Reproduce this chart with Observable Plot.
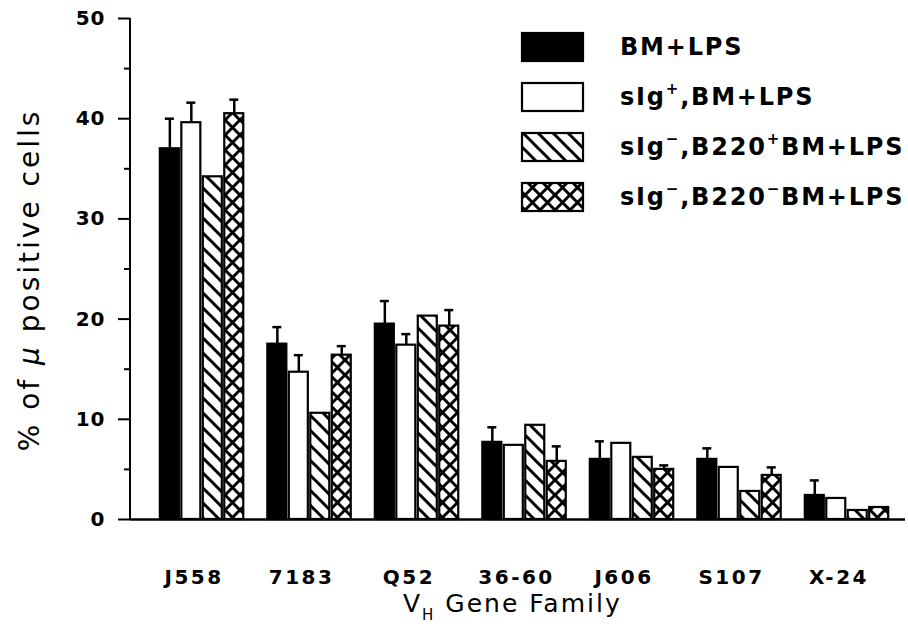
<!DOCTYPE html>
<html>
<head>
<meta charset="utf-8">
<script src="https://cdn.jsdelivr.net/npm/d3@7"></script>
<script src="https://cdn.jsdelivr.net/npm/@observablehq/plot@0.6"></script>
<style>
  html, body { margin: 0; padding: 0; background: #fff; }
  #chart { width: 908px; height: 626px; }
</style>
</head>
<body>
<div id="chart"></div>
<script>
// ---- data ----
const groups = ["J558", "7183", "Q52", "36-60", "J606", "S107", "X-24"];
const seriesNames = ["BM+LPS", "sIg+,BM+LPS", "sIg-,B220+BM+LPS", "sIg-,B220-BM+LPS"];
const bmLps        = [37.0, 17.5, 19.5, 7.7, 6.0, 6.0, 2.4];
const bmLpsErr     = [40.0, 19.2, 21.8, 9.2, 7.8, 7.1, 3.9];
const sIgPos       = [39.6, 14.7, 17.4, 7.4, 7.6, 5.2, 2.1];
const sIgPosErr    = [41.6, 16.4, 18.5, null, null, null, null];
const b220Pos      = [34.2, 10.6, 20.3, 9.4, 6.2, 2.8, 0.9];
const b220PosErr   = [null, null, null, null, null, null, null];
const b220Neg      = [40.5, 16.4, 19.3, 5.8, 5.0, 4.4, 1.2];
const b220NegErr   = [41.9, 17.3, 20.9, 7.3, 5.4, 5.2, null];
const yTicks = [0, 10, 20, 30, 40, 50];
const yMinorTicks = [5, 15, 25, 35, 45];

const seriesValues = [bmLps, sIgPos, b220Pos, b220Neg];
const seriesErrors = [bmLpsErr, sIgPosErr, b220PosErr, b220NegErr];
const fills = ["black", "white", "url(#hatch)", "url(#cross)"];

// ---- layout ----
const W = 908, H = 626, ML = 130, MR = 3, MT = 18, MB = 107;
const PI = 0.224, PO = 0.217, AL = 0.64;
const STEP = (W - ML - MR) / (groups.length - PI + 2 * PO);
const BW = STEP * (1 - PI);
const BAR_W = 19;
const GAP = (BW - 4 * BAR_W) / 3;
const PITCH = BAR_W + GAP;
const CAP = 9;

const marks = [];
seriesValues.forEach((vals, i) => {
  const rows = groups.map((g, j) => ({group: g, value: vals[j], err: seriesErrors[i][j]}));
  const errRows = rows.filter(d => d.err != null);
  const left = i * PITCH;
  const center = left + BAR_W / 2;
  marks.push(Plot.ruleX(errRows, {x: "group", y1: "value", y2: "err", dx: center - BW / 2, stroke: "black", strokeWidth: 2.5}));
  marks.push(Plot.tickY(errRows, {x: "group", y: "err", insetLeft: center - CAP / 2, insetRight: BW - center - CAP / 2, stroke: "black", strokeWidth: 2.5}));
  marks.push(Plot.barY(rows, {x: "group", y: "value", fill: fills[i], stroke: "black", strokeWidth: 2.2, insetLeft: left, insetRight: BW - left - BAR_W}));
});

const plot = Plot.plot({
  width: W, height: H,
  marginLeft: ML, marginRight: MR, marginTop: MT, marginBottom: MB,
  style: {fontFamily: "DejaVu Sans", background: "white", color: "black", overflow: "visible"},
  x: {domain: groups, paddingInner: PI, paddingOuter: PO, align: AL, round: false, label: null},
  y: {domain: [0, 50], label: null},
  marks: [
    ...marks,
    Plot.ruleY([0], {stroke: "black", strokeWidth: 2.5}),
    Plot.axisY(yTicks, {tickSize: 12, tickPadding: 13, fontSize: 20, fontWeight: "bold", strokeWidth: 2, label: null}),
    Plot.axisY(yMinorTicks, {tickSize: 6, tickFormat: () => "", strokeWidth: 2, label: null}),
    Plot.axisX({tickSize: 0, tickPadding: 50, dx: -8, fontSize: 20, fontWeight: "bold", label: null})
  ]
});
document.getElementById("chart").appendChild(plot);

// ---- patterns, axis line, titles, legend ----
const svg = d3.select(plot);
svg.selectAll("[aria-label='x-axis tick label'] text, g[aria-label='x-axis tick label']").attr("letter-spacing", 2.5);
svg.selectAll("g[aria-label='y-axis tick label']").attr("letter-spacing", 1);
const defs = svg.insert("defs", ":first-child");
const hatch = defs.append("pattern").attr("id", "hatch").attr("patternUnits", "userSpaceOnUse")
  .attr("width", 15).attr("height", 15);
hatch.append("rect").attr("width", 15).attr("height", 15).attr("fill", "white");
hatch.append("path").attr("d", "M-4,11L4,19M0,0L15,15M11,-4L19,4").attr("stroke", "black").attr("stroke-width", 3);
const cross = defs.append("pattern").attr("id", "cross").attr("patternUnits", "userSpaceOnUse")
  .attr("width", 15).attr("height", 15);
cross.append("rect").attr("width", 15).attr("height", 15).attr("fill", "white");
cross.append("path").attr("d", "M-4,11L4,19M0,0L15,15M11,-4L19,4M-4,4L4,-4M0,15L15,0M11,19L19,11")
  .attr("stroke", "black").attr("stroke-width", 3);

const y = plot.scale("y");
svg.append("line").attr("x1", ML).attr("x2", ML)
  .attr("y1", y.apply(50)).attr("y2", y.apply(0))
  .attr("stroke", "black").attr("stroke-width", 2);

// y title
const yt = svg.append("text")
  .attr("transform", "translate(39,280) rotate(-90)")
  .attr("text-anchor", "middle")
  .attr("font-family", "DejaVu Sans").attr("font-size", 28).attr("letter-spacing", 3)
  .attr("fill", "black");
yt.append("tspan").text("% of ");
yt.append("tspan").attr("font-style", "italic").text("\u03BC");
yt.append("tspan").text(" positive cells");

// x title
const xt = svg.append("text")
  .attr("x", 403).attr("y", 612)
  .attr("text-anchor", "start")
  .attr("font-family", "DejaVu Sans").attr("font-size", 25).attr("letter-spacing", 2)
  .attr("fill", "black");
xt.append("tspan").text("V");
xt.append("tspan").attr("dy", 8).attr("font-size", 15).text("H");
xt.append("tspan").attr("dy", -8).text(" Gene Family");

// legend
const legendParts = [
  [["BM+LPS", 0]],
  [["sIg", 0], ["+", 1], [",BM+LPS", 0]],
  [["sIg", 0], ["\u2212", 1], [",B220", 0], ["+", 1], ["BM+LPS", 0]],
  [["sIg", 0], ["\u2212", 1], [",B220", 0], ["\u2212", 1], ["BM+LPS", 0]]
];
seriesNames.forEach((name, i) => {
  const g = svg.append("g").attr("aria-label", name);
  g.append("rect").attr("x", 522).attr("y", 33 + 50 * i).attr("width", 61).attr("height", 28)
    .attr("fill", fills[i]).attr("stroke", "black").attr("stroke-width", 2.2);
  const t = g.append("text").attr("x", 620).attr("y", 55 + 50 * i)
    .attr("text-anchor", "start")
    .attr("font-family", "DejaVu Sans").attr("font-weight", "bold").attr("font-size", 24)
    .attr("letter-spacing", 1.8).attr("fill", "black");
  let raised = false;
  legendParts[i].forEach(([s, sup]) => {
    const ts = t.append("tspan").text(s);
    if (sup && !raised) { ts.attr("dy", -11).attr("font-size", 15); raised = true; }
    else if (sup) { ts.attr("font-size", 15); }
    else if (raised) { ts.attr("dy", 11); raised = false; }
  });
});
</script>
</body>
</html>
